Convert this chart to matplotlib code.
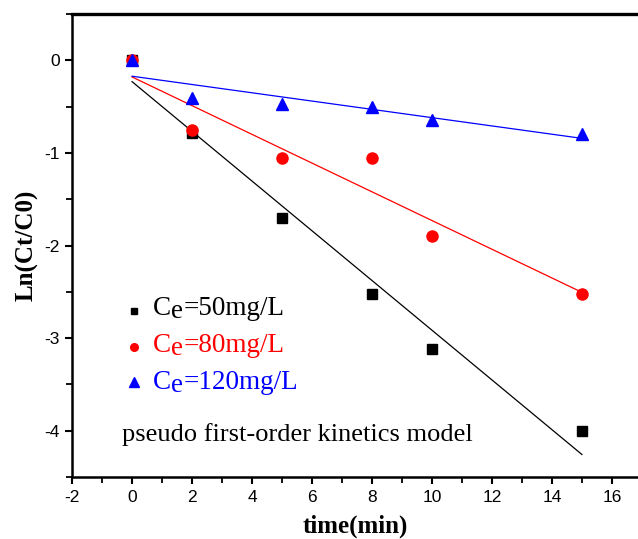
import numpy as np
import matplotlib
matplotlib.use("Agg")
import matplotlib.pyplot as plt
from matplotlib.ticker import MultipleLocator

plt.rcParams["axes.unicode_minus"] = False

time_min = [0, 2, 5, 8, 10, 15]
ln_50 = [0.0, -0.78, -1.70, -2.52, -3.12, -4.00]
ln_80 = [0.0, -0.75, -1.06, -1.05, -1.90, -2.52]
ln_120 = [0.0, -0.41, -0.47, -0.50, -0.64, -0.80]

conc_labels = ["=50mg/L", "=80mg/L", "=120mg/L"]
colors = ["black", "red", "blue"]
markers = ["s", "o", "^"]
msizes = [6.5, 8, 9]
key_sizes = [4.5, 5.5, 6.5]

SERIF = "Liberation Serif"

fig = plt.figure(figsize=(6.38, 5.39), dpi=100)
ax = fig.add_axes([0.113, 0.115, 0.887, 0.859])

x = np.array(time_min, dtype=float)
for y, c, m, ms in zip([ln_50, ln_80, ln_120], colors, markers, msizes):
    ax.plot(x, y, linestyle="none", marker=m, markersize=ms, color=c, zorder=3)
    k, b = np.polyfit(x, y, 1)
    xf = np.array([0, 15])
    ax.plot(xf, k * xf + b, color=c, linewidth=0.9, zorder=2)

ax.set_xlim(-2, 16.87)
ax.set_ylim(-4.5, 0.5)
ax.xaxis.set_major_locator(MultipleLocator(2))
ax.xaxis.set_minor_locator(MultipleLocator(1))
ax.yaxis.set_major_locator(MultipleLocator(1))
ax.yaxis.set_minor_locator(MultipleLocator(0.5))

ax.spines["right"].set_visible(False)
ax.spines["top"].set_linewidth(2.4)
ax.spines["left"].set_linewidth(1.8)
ax.spines["bottom"].set_linewidth(1.8)
ax.tick_params(which="major", direction="out", length=5, width=1.5,
               labelsize=12.5, pad=4, top=False, right=False)
ax.tick_params(which="minor", direction="out", length=4, width=1.3,
               top=False, right=False)
for t in ax.get_xticklabels() + ax.get_yticklabels():
    t.set_fontfamily("Liberation Sans")

ax.set_xlabel("time(min)", fontfamily=SERIF, fontweight="bold",
              fontsize=18, labelpad=7)
ax.set_ylabel("Ln(Ct/C0)", fontfamily=SERIF, fontweight="bold",
              fontsize=18, labelpad=4)

# Legend keys and labels (subscript "e" drawn full size, slightly lowered)
key_y = [-2.71, -3.10, -3.47]
text_base = [-2.75, -3.15, -3.55]
for ky, ty, c, m, ks, lab in zip(key_y, text_base, colors, markers, key_sizes, conc_labels):
    ax.plot([0.05], [ky], linestyle="none", marker=m, markersize=ks, color=c)
    tC = ax.text(0.7, ty, "C", fontfamily=SERIF, fontsize=19.5, color=c,
                 ha="left", va="baseline")
    te = ax.annotate("e", xy=(1, 0), xycoords=tC, xytext=(0, -2.2),
                     textcoords="offset points", fontfamily=SERIF, fontsize=19.5,
                     color=c, ha="left", va="bottom")
    ax.annotate(lab, xy=(1, 0), xycoords=te, xytext=(0, 2.2),
                textcoords="offset points", fontfamily=SERIF, fontsize=19.5,
                color=c, ha="left", va="bottom")

ax.text(-0.33, -4.11, "pseudo first-order kinetics model", fontfamily=SERIF,
        fontsize=19, va="baseline", ha="left")

fig.savefig("out.png", dpi=100)
